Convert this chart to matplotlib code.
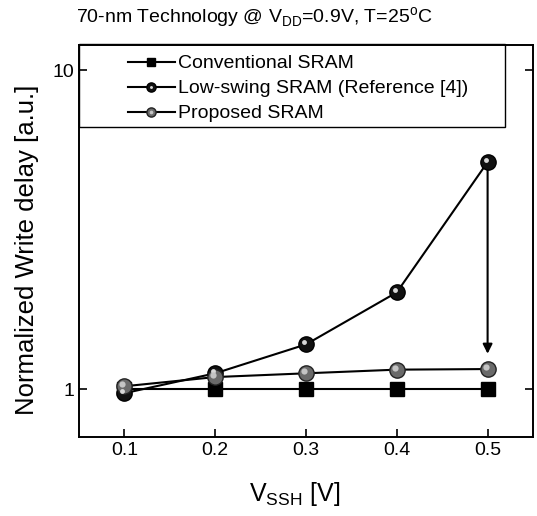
import matplotlib
matplotlib.use("Agg")
import matplotlib.pyplot as plt
from matplotlib.legend_handler import HandlerTuple
from matplotlib.patches import Rectangle
from matplotlib.transforms import ScaledTranslation

plt.rcParams['font.family'] = ['Liberation Sans', 'DejaVu Sans']

# datos
vssh = [0.1, 0.2, 0.3, 0.4, 0.5]
conventional = [1.0, 1.0, 1.0, 1.0, 1.0]
low_swing = [0.97, 1.12, 1.38, 2.01, 5.15]
proposed = [1.02, 1.09, 1.12, 1.15, 1.155]

fig = plt.figure(figsize=(5.37, 5.16), dpi=100)
ax = fig.add_axes([79 / 537, 1 - 437 / 516, 454 / 537, 392 / 516])

l1, = ax.plot(vssh, conventional, '-s', color='black', lw=1.5, ms=10,
              mfc='black', mec='black', zorder=3)
l2, = ax.plot(vssh, low_swing, '-o', color='black', lw=1.5, ms=11,
              mfc='#111111', mec='black', zorder=4)
l3, = ax.plot(vssh, proposed, '-o', color='black', lw=1.5, ms=11,
              mfc='#6a6a6a', mec='#222222', zorder=4)

# brillo de las esferas (desplazado arriba a la izquierda)
desplaza = ax.transData + ScaledTranslation(-1.5 / 72, 1.5 / 72, fig.dpi_scale_trans)
ax.plot(vssh, low_swing, 'o', ls='none', ms=3.5, mfc='#d8d8d8',
        mec='none', zorder=5, transform=desplaza)
ax.plot(vssh, proposed, 'o', ls='none', ms=4.5, mfc='#c4c4c4',
        mec='none', zorder=5, transform=desplaza)
h2, = ax.plot([], [], 'o', ls='none', ms=3.5, mfc='#d8d8d8', mec='none')
h3, = ax.plot([], [], 'o', ls='none', ms=4.5, mfc='#c4c4c4', mec='none')

# flecha de reduccion
ax.annotate('', xy=(vssh[-1], 1.29), xytext=(vssh[-1], low_swing[-1]),
            arrowprops=dict(arrowstyle='-|>', color='black', lw=1.5,
                            mutation_scale=14, shrinkA=5, shrinkB=0),
            zorder=2)

ax.set_yscale('log')
ax.set_xlim(0.05, 0.55)
ax.set_ylim(0.707, 12)
ax.set_xticks(vssh)
ax.set_xticklabels(['0.1', '0.2', '0.3', '0.4', '0.5'])
ax.set_yticks([1, 10])
ax.set_yticklabels(['1', '10'])
ax.minorticks_off()
ax.tick_params(axis='both', labelsize=14, direction='in', length=6, width=1.2)
ax.tick_params(axis='y', right=True, labelright=False)
for s in ax.spines.values():
    s.set_linewidth(1.4)

ax.set_xlabel(r'V$_{\mathregular{SSH}}$ [V]', fontsize=18)
ax.xaxis.set_label_coords(0.476, -0.11)
ax.set_ylabel('Normalized Write delay [a.u.]', fontsize=18.5)
ax.yaxis.set_label_coords(-0.088, 0.477)
fig.text(254 / 537, 1 - 18 / 516,
         r'70-nm Technology @ V$_{\mathregular{DD}}$=0.9V, T=25$^{\mathregular{o}}$C',
         ha='center', va='center', fontsize=14)

# recuadro de la leyenda
ax.add_patch(Rectangle((0, 0.791), 0.938, 0.212, transform=ax.transAxes,
                       fill=False, ec='black', lw=1.0, clip_on=False, zorder=6))

leg = ax.legend([l1, (l2, h2), (l3, h3)],
                ['Conventional SRAM', 'Low-swing SRAM (Reference [4])',
                 'Proposed SRAM'],
                handler_map={tuple: HandlerTuple(ndivide=1, pad=0)},
                loc='upper left', bbox_to_anchor=(0.108, 0.975),
                fontsize=14, frameon=False, borderpad=0, borderaxespad=0,
                handlelength=2.4, handletextpad=0.15, labelspacing=0.38,
                markerscale=0.6)

fig.savefig('out.png', dpi=100)
plt.close(fig)
